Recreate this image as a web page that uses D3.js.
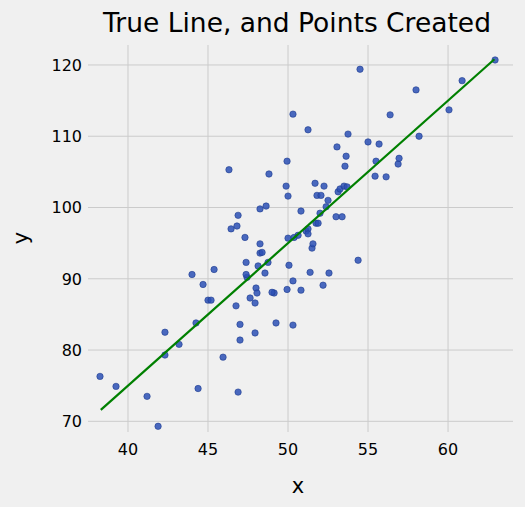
<!DOCTYPE html>
<html><head><meta charset="utf-8">
<script src="https://cdn.jsdelivr.net/npm/d3@7"></script>
<style>body{margin:0;background:#f0f0f0}</style>
</head><body>
<svg id="chart" width="525" height="507"></svg>
<script>
const xs = [38.25,39.25,41.19,41.88,42.31,42.31,43.19,44.0,44.38,44.25,44.69,45.0,45.19,45.38,45.94,46.31,46.44,46.75,46.81,46.88,46.88,47.0,47.0,47.31,47.38,47.44,47.38,47.63,47.94,48.0,48.06,47.94,48.13,48.25,48.25,48.25,48.38,48.63,48.56,48.75,48.81,49.13,49.0,49.25,49.88,49.94,50.0,50.06,50.0,49.94,50.31,50.31,50.31,50.38,50.63,50.81,50.81,51.13,51.25,51.25,51.25,51.38,51.5,51.56,51.69,51.75,51.81,51.88,52.0,52.06,52.19,52.25,52.38,52.5,52.56,53.0,53.06,53.13,53.25,53.38,53.5,53.56,53.75,53.63,53.69,54.38,54.5,55.0,55.44,55.5,55.69,56.13,56.38,56.88,56.94,58.0,58.19,60.06,60.88,62.94];
const ys = [76.3,74.9,73.5,69.3,79.3,82.5,80.8,90.6,74.6,83.8,89.2,87.0,87.0,91.3,79.0,105.3,97.0,86.2,97.4,98.9,74.1,83.6,81.4,95.8,92.3,90.2,90.6,87.3,86.6,88.7,88.0,82.4,91.8,99.8,94.9,93.6,93.7,100.2,90.8,92.3,104.7,88.0,88.1,83.8,103.0,88.5,95.7,91.9,101.6,106.5,113.1,83.5,89.7,95.8,96.1,99.5,88.4,96.7,110.9,97.0,96.3,90.9,94.3,94.9,103.4,97.8,101.7,97.8,99.2,101.7,89.1,103.0,100.1,101.0,90.8,98.7,108.5,102.2,102.6,98.7,103.0,105.8,110.3,107.2,102.9,92.6,119.4,109.2,104.4,106.5,108.9,104.3,113.0,106.1,106.9,116.5,110.0,113.7,117.8,120.7];
const lineX = [38.3, 62.9];
const lineY = [71.6, 120.8];
const xTicks = [40,45,50,55,60];
const yTicks = [70,80,90,100,110,120];

const svg = d3.select('#chart');
const x = d3.scaleLinear().domain([37.5, 64.06]).range([88, 513]);
const y = d3.scaleLinear().domain([68.5, 122.8]).range([432, 45]);
const font = 'DejaVu Sans, sans-serif';

svg.append('g').selectAll('line.gx').data(xTicks).enter().append('line')
    .attr('x1', d => x(d)).attr('x2', d => x(d)).attr('y1', 45).attr('y2', 432)
    .attr('stroke', '#cbcbcb').attr('stroke-width', 1);
svg.append('g').selectAll('line.gy').data(yTicks).enter().append('line')
    .attr('y1', d => y(d)).attr('y2', d => y(d)).attr('x1', 88).attr('x2', 513)
    .attr('stroke', '#cbcbcb').attr('stroke-width', 1);

svg.append('g').selectAll('text').data(xTicks).enter().append('text')
    .attr('x', d => x(d)).attr('y', 455).attr('text-anchor', 'middle')
    .attr('font-family', font).attr('font-size', 16).attr('fill', '#000').text(d => d);
svg.append('g').selectAll('text').data(yTicks).enter().append('text')
    .attr('x', 82).attr('y', d => y(d) + 6).attr('text-anchor', 'end')
    .attr('font-family', font).attr('font-size', 16).attr('fill', '#000').text(d => d);

svg.append('g').selectAll('circle').data(xs).enter().append('circle')
    .attr('cx', d => x(d)).attr('cy', (d, i) => y(ys[i])).attr('r', 3.2)
    .attr('fill', '#2b50b5').attr('fill-opacity', 0.85)
    .attr('stroke', '#1f3d8f').attr('stroke-width', 0.6);

svg.append('line')
    .attr('x1', x(lineX[0])).attr('y1', y(lineY[0]))
    .attr('x2', x(lineX[1])).attr('y2', y(lineY[1]))
    .attr('stroke', '#008000').attr('stroke-width', 2.2);

svg.append('text').attr('x', 297).attr('y', 32).attr('text-anchor', 'middle')
    .attr('font-family', font).attr('font-size', 26.5).attr('fill', '#000')
    .text('True Line, and Points Created');
svg.append('text').attr('x', 298).attr('y', 493).attr('text-anchor', 'middle')
    .attr('font-family', font).attr('font-size', 21).attr('fill', '#000').text('x');
svg.append('text').attr('transform', 'translate(28,238) rotate(-90)').attr('text-anchor', 'middle')
    .attr('font-family', font).attr('font-size', 21).attr('fill', '#000').text('y');
</script>
</body></html>
